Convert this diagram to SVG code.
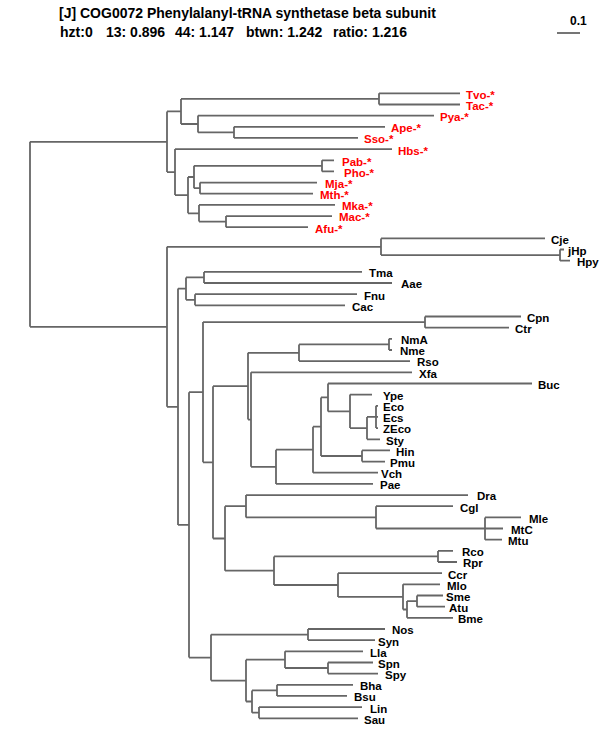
<svg xmlns="http://www.w3.org/2000/svg" width="600" height="750" viewBox="0 0 600 750">
<style>
.c{fill:none;stroke:#666;stroke-width:1.8}
.l{font-family:"Liberation Sans",Arial,Helvetica,sans-serif;font-size:11.5px;font-weight:bold;fill:#000}
.r{fill:#f00}
.h{font-family:"Liberation Sans",Arial,Helvetica,sans-serif;font-size:14px;font-weight:bold;fill:#000}
</style>
<rect width="600" height="750" fill="#fff"/>
<g id="header">
<text class="h" x="59" y="18">[J] COG0072 Phenylalanyl-tRNA synthetase beta subunit</text>
<text class="h" x="60" y="37">hzt:0</text>
<text class="h" x="106" y="37">13: 0.896</text>
<text class="h" x="175" y="37">44: 1.147</text>
<text class="h" x="246" y="37">btwn: 1.242</text>
<text class="h" x="333" y="37">ratio: 1.216</text>
</g>
<g id="scale">
<path class="c" d="M557,33H580"/>
<text class="l" x="570" y="25" style="font-size:12px">0.1</text>
</g>
<g id="connectors" class="c">
<path d="M30,141.8V326.8M30,141.8H167M30,326.8H167"/>
<path d="M167,111.4V172.1M167,111.4H181M167,172.1H175"/>
<path d="M181,98.9V124M181,98.9H379M181,124H198"/>
<path d="M379,93.3V104.5M379,93.3H460M379,104.5H460"/>
<path d="M198,115.6V132.4M198,115.6H434M198,132.4H234"/>
<path d="M234,126.8V137.9M234,126.8H385M234,137.9H358"/>
<path d="M175,149.1V195.1M175,149.1H392M175,195.1H188"/>
<path d="M188,177V213.3M188,177H194M188,213.3H199"/>
<path d="M194,165.8V188.2M194,165.8H322M194,188.2H200"/>
<path d="M322,160.3V171.4M322,160.3H334M322,171.4H334"/>
<path d="M200,182.6V193.7M200,182.6H317M200,193.7H313"/>
<path d="M199,204.9V221.6M199,204.9H335M199,221.6H226"/>
<path d="M226,216.1V227.2M226,216.1H332M226,227.2H308"/>
<path d="M167,246.8V406.8M167,246.8H381M167,406.8H178"/>
<path d="M381,238.4V255.1M381,238.4H545M381,255.1H560"/>
<path d="M560,249.5V260.7M560,249.5H564M560,260.7H570"/>
<path d="M178,288.6V524.9M178,288.6H186M178,524.9H189"/>
<path d="M186,277.4V299.8M186,277.4H204M186,299.8H195"/>
<path d="M204,271.9V283M204,271.9H362M204,283H392"/>
<path d="M195,294.2V305.3M195,294.2H357M195,305.3H345"/>
<path d="M189,392.2V657.6M189,392.2H203M189,657.6H211"/>
<path d="M203,322.1V462.3M203,322.1H425M203,462.3H213"/>
<path d="M425,316.5V327.7M425,316.5H521M425,327.7H509"/>
<path d="M213,386.2V538.5M213,386.2H248M213,538.5H225"/>
<path d="M248,352.8V419.6M248,352.8H299M248,419.6H251"/>
<path d="M299,344.4V361.1M299,344.4H389M299,361.1H410"/>
<path d="M389,338.8V350M389,338.8H392M389,350H392"/>
<path d="M251,372.3V466.8M251,372.3H412M251,466.8H276"/>
<path d="M276,449.7V483.9M276,449.7H313M276,483.9H373"/>
<path d="M313,426.7V472.7M313,426.7H321M313,472.7H378"/>
<path d="M321,397.4V456M321,397.4H328M321,456H362"/>
<path d="M362,450.4V461.6M362,450.4H390M362,461.6H385"/>
<path d="M328,383.5V411.4M328,383.5H532M328,411.4H350"/>
<path d="M350,394.6V428.1M350,394.6H372M350,428.1H367"/>
<path d="M367,416.9V439.3M367,416.9H376M367,439.3H380"/>
<path d="M376,405.8V428.1M376,405.8H378M376,416.9H378M376,428.1H378"/>
<path d="M225,506.2V570.7M225,506.2H246M225,570.7H274"/>
<path d="M246,495.1V517.4M246,495.1H468M246,517.4H376"/>
<path d="M376,506.2V528.5M376,506.2H453M376,528.5H485"/>
<path d="M485,517.4V539.7M485,517.4H521M485,528.5H503M485,539.7H502"/>
<path d="M274,556.4V585M274,556.4H438M274,585H338"/>
<path d="M438,550.9V562M438,550.9H453M438,562H457"/>
<path d="M338,573.2V596.9M338,573.2H442M338,596.9H403"/>
<path d="M403,584.3V609.5M403,584.3H440M403,609.5H407"/>
<path d="M407,601.1V617.8M407,601.1H417M407,617.8H453"/>
<path d="M417,595.5V606.7M417,595.5H443M417,606.7H445"/>
<path d="M211,634.6V680.6M211,634.6H308M211,680.6H246"/>
<path d="M308,629V640.1M308,629H385M308,640.1H375"/>
<path d="M246,659.7V701.5M246,659.7H285M246,701.5H252"/>
<path d="M285,651.3V668M285,651.3H363M285,668H328"/>
<path d="M328,662.5V673.6M328,662.5H373M328,673.6H378"/>
<path d="M252,690.4V712.7M252,690.4H277M252,712.7H259"/>
<path d="M277,684.8V695.9M277,684.8H353M277,695.9H347"/>
<path d="M259,707.1V718.3M259,707.1H362M259,718.3H358"/>
</g>
<g id="Tvo"><text class="l r" x="466" y="99">Tvo-*</text></g>
<g id="Tac"><text class="l r" x="466" y="110">Tac-*</text></g>
<g id="Pya"><text class="l r" x="440" y="121">Pya-*</text></g>
<g id="Ape"><text class="l r" x="391" y="132">Ape-*</text></g>
<g id="Sso"><text class="l r" x="364" y="143">Sso-*</text></g>
<g id="Hbs"><text class="l r" x="398" y="155">Hbs-*</text></g>
<g id="Pab"><text class="l r" x="342" y="166">Pab-*</text></g>
<g id="Pho"><text class="l r" x="344" y="177">Pho-*</text></g>
<g id="Mja"><text class="l r" x="325" y="188">Mja-*</text></g>
<g id="Mth"><text class="l r" x="320" y="199">Mth-*</text></g>
<g id="Mka"><text class="l r" x="342" y="210">Mka-*</text></g>
<g id="Mac"><text class="l r" x="339" y="221">Mac-*</text></g>
<g id="Afu"><text class="l r" x="315" y="233">Afu-*</text></g>
<g id="Cje"><text class="l" x="551" y="244">Cje</text></g>
<g id="jHp"><text class="l" x="568" y="255">jHp</text></g>
<g id="Hpy"><text class="l" x="577" y="266">Hpy</text></g>
<g id="Tma"><text class="l" x="369" y="277">Tma</text></g>
<g id="Aae"><text class="l" x="401" y="288">Aae</text></g>
<g id="Fnu"><text class="l" x="364" y="300">Fnu</text></g>
<g id="Cac"><text class="l" x="352" y="311">Cac</text></g>
<g id="Cpn"><text class="l" x="527" y="322">Cpn</text></g>
<g id="Ctr"><text class="l" x="515" y="333">Ctr</text></g>
<g id="NmA"><text class="l" x="401" y="344">NmA</text></g>
<g id="Nme"><text class="l" x="400" y="355">Nme</text></g>
<g id="Rso"><text class="l" x="417" y="366">Rso</text></g>
<g id="Xfa"><text class="l" x="419" y="378">Xfa</text></g>
<g id="Buc"><text class="l" x="538" y="389">Buc</text></g>
<g id="Ype"><text class="l" x="383" y="400">Ype</text></g>
<g id="Eco"><text class="l" x="383" y="411">Eco</text></g>
<g id="Ecs"><text class="l" x="383" y="422">Ecs</text></g>
<g id="ZEco"><text class="l" x="383" y="433">ZEco</text></g>
<g id="Sty"><text class="l" x="386" y="445">Sty</text></g>
<g id="Hin"><text class="l" x="396" y="456">Hin</text></g>
<g id="Pmu"><text class="l" x="390" y="467">Pmu</text></g>
<g id="Vch"><text class="l" x="381" y="478">Vch</text></g>
<g id="Pae"><text class="l" x="380" y="489">Pae</text></g>
<g id="Dra"><text class="l" x="477" y="500">Dra</text></g>
<g id="Cgl"><text class="l" x="460" y="512">Cgl</text></g>
<g id="Mle"><text class="l" x="529" y="523">Mle</text></g>
<g id="MtC"><text class="l" x="511" y="534">MtC</text></g>
<g id="Mtu"><text class="l" x="508" y="545">Mtu</text></g>
<g id="Rco"><text class="l" x="462" y="556">Rco</text></g>
<g id="Rpr"><text class="l" x="463" y="567">Rpr</text></g>
<g id="Ccr"><text class="l" x="448" y="579">Ccr</text></g>
<g id="Mlo"><text class="l" x="447" y="590">Mlo</text></g>
<g id="Sme"><text class="l" x="446" y="601">Sme</text></g>
<g id="Atu"><text class="l" x="449" y="612">Atu</text></g>
<g id="Bme"><text class="l" x="458" y="623">Bme</text></g>
<g id="Nos"><text class="l" x="392" y="634">Nos</text></g>
<g id="Syn"><text class="l" x="378" y="646">Syn</text></g>
<g id="Lla"><text class="l" x="370" y="657">Lla</text></g>
<g id="Spn"><text class="l" x="378" y="668">Spn</text></g>
<g id="Spy"><text class="l" x="385" y="679">Spy</text></g>
<g id="Bha"><text class="l" x="360" y="690">Bha</text></g>
<g id="Bsu"><text class="l" x="354" y="701">Bsu</text></g>
<g id="Lin"><text class="l" x="370" y="713">Lin</text></g>
<g id="Sau"><text class="l" x="364" y="724">Sau</text></g>
</svg>
